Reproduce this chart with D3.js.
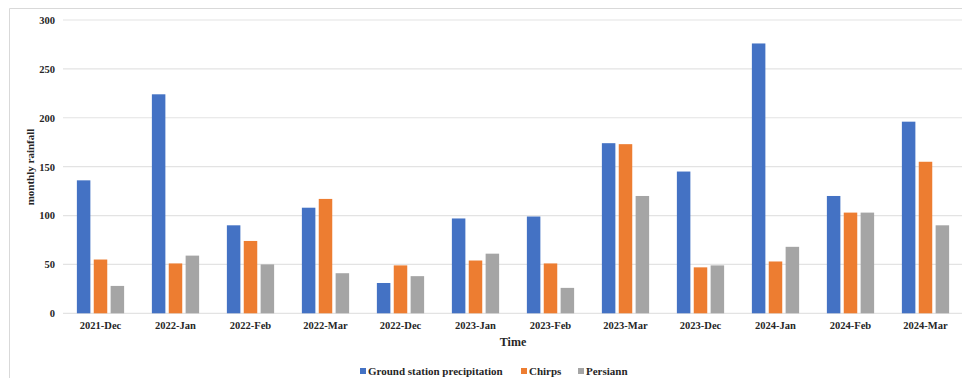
<!DOCTYPE html>
<html><head><meta charset="utf-8">
<script src="https://cdn.jsdelivr.net/npm/d3@7"></script>
<style>body{margin:0;background:#fff}svg{display:block}</style>
</head><body>
<svg id="c" width="962" height="378"></svg>
<script>
const categories = ["2021-Dec","2022-Jan","2022-Feb","2022-Mar","2022-Dec","2023-Jan","2023-Feb","2023-Mar","2023-Dec","2024-Jan","2024-Feb","2024-Mar"];
const seriesNames = ["Ground station precipitation","Chirps","Persiann"];
const ground = [136,224,90,108,31,97,99,174,145,276,120,196];
const chirps = [55,51,74,117,49,54,51,173,47,53,103,155];
const persiann = [28,59,50,41,38,61,26,120,49,68,103,90];
const yTicks = [0,50,100,150,200,250,300];
const colors = ["#4472C4","#ED7D31","#A5A5A5"];

(function(){
const seriesVals = [ground, chirps, persiann];
const svg = d3.select("#c");
const font = "'Liberation Serif','Times New Roman',serif";
const pL = 63, pR = 963, pT = 20, pB = 313.3;

// frame
svg.append("path").attr("d","M9.5,378 V8.5 H962").attr("fill","none").attr("stroke","#d9d9d9").attr("stroke-width",1);

const x = d3.scaleBand().domain(categories).range([pL,pR]).paddingInner(0.37).paddingOuter(0.185);
const xs = d3.scaleBand().domain(seriesNames).range([0,x.bandwidth()]).paddingInner(0.2);
const y = d3.scaleLinear().domain([0,300]).range([pB,pT]);

// gridlines
svg.append("g").selectAll("line").data(yTicks).join("line")
  .attr("x1",pL).attr("x2",pR).attr("y1",d=>y(d)).attr("y2",d=>y(d))
  .attr("stroke","#e3e3e3").attr("stroke-width",1.2);

// y axis labels
const ya = svg.append("g").attr("transform",`translate(${pL},0)`)
  .call(d3.axisLeft(y).tickValues(yTicks).tickSize(0).tickPadding(8));
ya.select(".domain").remove();
ya.selectAll("text").attr("font-family",font).attr("font-weight","bold").attr("font-size","10.5px").attr("fill","#262626");

// bars
const g = svg.append("g");
categories.forEach((c,i)=>{
  seriesNames.forEach((s,j)=>{
    const v = seriesVals[j][i];
    g.append("rect").attr("x",x(c)+xs(s)).attr("width",xs.bandwidth())
      .attr("y",y(v)).attr("height",y(0)-y(v)).attr("fill",colors[j]);
  });
});

// x axis labels
const xa = svg.append("g").attr("transform",`translate(0,${pB})`)
  .call(d3.axisBottom(x).tickSize(0).tickPadding(8));
xa.select(".domain").remove();
xa.selectAll("text").attr("font-family",font).attr("font-weight","bold").attr("font-size","10.5px").attr("fill","#262626");

// axis titles
svg.append("text").attr("x",513).attr("y",346).attr("text-anchor","middle")
  .attr("font-family",font).attr("font-weight","bold").attr("font-size","12px").attr("fill","#262626").text("Time");
svg.append("text").attr("transform","translate(34,167) rotate(-90)").attr("text-anchor","middle")
  .attr("font-family",font).attr("font-weight","bold").attr("font-size","11px").attr("fill","#262626").text("monthly rainfall");

// legend
const legX = [360,521,578];
const lg = svg.append("g");
seriesNames.forEach((s,j)=>{
  lg.append("rect").attr("x",legX[j]).attr("y",368).attr("width",6).attr("height",6).attr("fill",colors[j]);
  lg.append("text").attr("x",legX[j]+8).attr("y",375).attr("font-family",font).attr("font-weight","bold")
    .attr("font-size","11px").attr("fill","#262626").text(s);
});
})();
</script>
</body></html>
